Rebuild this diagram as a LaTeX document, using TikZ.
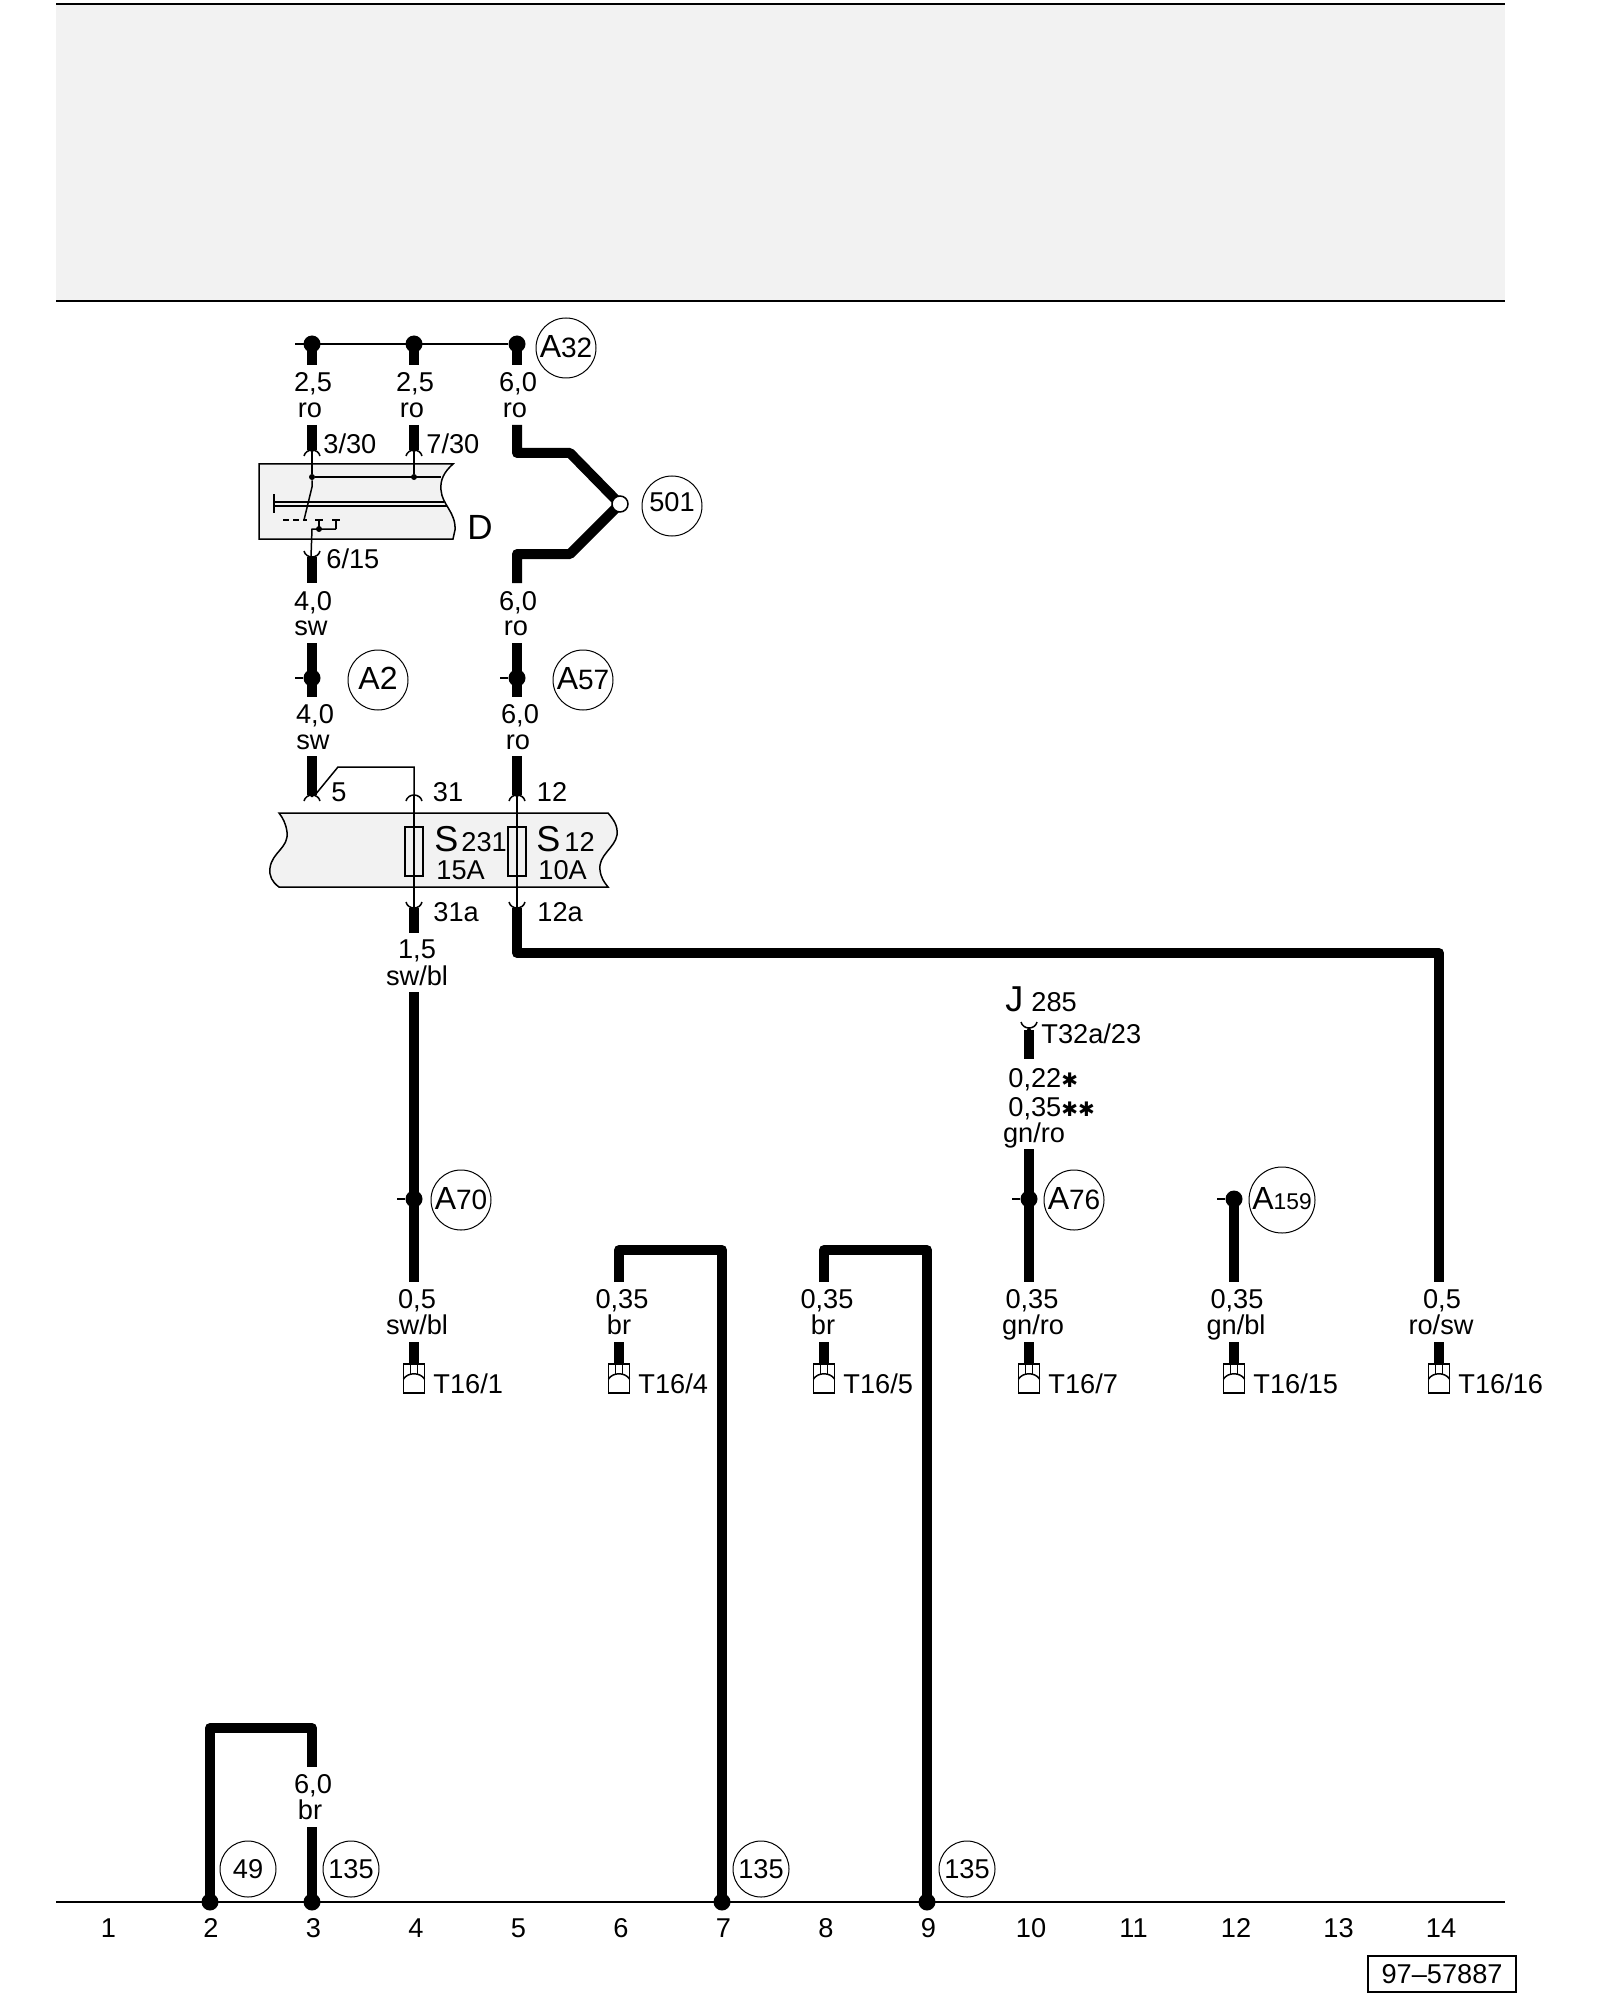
\documentclass[tikz,border=0pt]{standalone}
\usepackage{fontspec}
\setmainfont{Liberation Sans}
\newfontfamily\symfont{DejaVu Sans}
\definecolor{panelgray}{HTML}{F2F2F2}
\newcommand{\lbl}{\fontsize{13.6}{15}\selectfont}
\newcommand{\lblbig}{\fontsize{16}{18}\selectfont}
\newcommand{\lblmid}{\fontsize{14}{16}\selectfont}
\newcommand{\lbltiny}{\fontsize{11.4}{13}\selectfont}
\newcommand{\lblhuge}{\fontsize{18}{20}\selectfont}
\newcommand{\fat}{{\symfont\fontsize{10}{11}\selectfont ✱}}
\tikzset{
	wire/.style={line width=5pt, line join=round},
	hair/.style={line width=.75pt},
	rail/.style={line width=1pt},
	lab/.style={anchor=base, inner sep=0pt, font=\lbl},
	labl/.style={anchor=base west, inner sep=0pt, font=\lbl},
	tag/.style={circle, draw, line width=.5pt, fill=white, inner sep=0pt, minimum size=30pt, font=\lbl, text height=9.5pt, text depth=0pt},
	splice/.style={circle, fill=black, inner sep=0pt, minimum size=8.5pt},
	fuse/.style={draw, hair, fill=panelgray, inner sep=0pt, minimum width=9pt, minimum height=24.5pt},
	socketdn/.pic={\draw[hair] (-8,6) .. controls (-6,-2) and (6,-2) .. (8,6);},
	socketup/.pic={\draw[hair] (-8,-6) .. controls (-6,2) and (6,2) .. (8,-6);},
	tipdn/.pic={\fill (-5,-5) -- (5,-5) -- (1,2) -- (-1,2) -- cycle;},
	tipup/.pic={\fill (-5,5) -- (5,5) -- (1,-2) -- (-1,-2) -- cycle;},
	tplug/.pic={
		\draw[hair, fill=white] (-10.5,0) rectangle (10.5,29);
		\draw[hair] (-10.5,15) .. controls (-6,8) and (6,8) .. (10.5,15);
		\draw[hair] (-3.5,0) -- (-3.5,10) (3.5,0) -- (3.5,10);
	}
}
\begin{document}
\begin{tikzpicture}[x=.5pt, y=-.5pt]
	\useasboundingbox (0,0) rectangle (1600,2000);

	% top panel
	\fill[panelgray] (56,4) rectangle (1505,301);
	\draw[rail] (56,4) -- (1505,4);
	\draw[rail] (56,301) -- (1505,301);

	% earth rail and column numbers
	\coordinate (railL) at (56,1902);
	\coordinate (railR) at (1505,1902);
	\draw[rail] (railL) -- (railR);
	\foreach \i in {1,...,14}{
		\node[lab] (col\i) at ({6+102.5*\i},1937) {\i};
	}
	\draw[rail] (1368,1956) rectangle (1516,1992);
	\node[font=\lbl, inner sep=0pt] (docno) at (1442,1974) {97–57887};

	% bus at the top
	\node[splice] (busA) at (312,344) {};
	\node[splice] (busB) at (414,344) {};
	\node[splice] (busC) at (517,344) {};
	\coordinate (busL) at (295,344);
	\draw[rail] (busL) -- (busC);
	\node[tag] (tagA32) at (566,348) {\lblbig A\lblmid 32};
	\foreach \n/\x/\sz in {A/312/{2,5},B/414/{2,5},C/517/{6,0}}{
		\coordinate (bus\n e) at (\x,365);
		\draw[wire] (bus\n.center) -- (bus\n e);
		\node[lab] (sz\n) at (\x+1,392) {\sz};
		\node[lab] (clr\n) at (\x-2,418) {ro};
	}

	% ignition switch D
	\coordinate (dA) at (312,425);
	\coordinate (dB) at (312,450);
	\coordinate (eA) at (414,425);
	\coordinate (eB) at (414,450);
	\draw[wire] (dA) -- (dB);
	\draw[wire] (eA) -- (eB);
	\draw[hair, fill=panelgray] (259,464) -- (453,464) .. controls (444,472) and (440,480) .. (441,490)
		.. controls (442,505) and (456,512) .. (455,530) -- (453,539) -- (259,539) -- cycle;
	\pic at (312,450) {socketdn};
	\pic at (312,450) {tipdn};
	\pic at (414,450) {socketdn};
	\pic at (414,450) {tipdn};
	\node[splice, minimum size=3pt] (dsw) at (312,477) {};
	\node[splice, minimum size=3pt] (dsx) at (414,477) {};
	\coordinate (dR) at (441,477);
	\draw[hair] (dB) -- (dsw);
	\draw[hair] (eB) -- (dsx);
	\draw[hair] (dsw) -- (dR);
	\draw[hair] (274,494) -- (274,513);
	\draw[hair] (274,502) -- (444,502);
	\draw[hair] (274,506) -- (447,506);
	\draw[hair] (dsw) -- (312,487) -- (304,520);
	\draw[hair, densely dashed] (283,520) -- (307,520);
	\draw[hair] (315,520) -- (323,520) (319,520) -- (319,529);
	\draw[hair] (332,520) -- (340,520) (336,520) -- (336,529);
	\node[splice, minimum size=3pt] (dsy) at (319,529) {};
	\coordinate (dC) at (311,557);
	\draw[hair] (336,529) -- (312,529) -- (dC);
	\pic at (312,557) {socketup};
	\pic at (312,558) {tipup};
	\node[labl] (pinA) at (323,453) {3/30};
	\node[labl] (pinB) at (426,453) {7/30};
	\node[labl] (pinC) at (326,568) {6/15};
	\node[lab, font=\fontsize{17.5}{20}\selectfont] (swD) at (480,539) {D};

	% splice 501
	\coordinate (fkA) at (517,425);
	\coordinate (fkB) at (517,583);
	\node[circle, inner sep=0pt, minimum size=8pt] (spl501) at (620,504) {};
	\draw[wire] (fkA) -- (517,453) -- (570,453) -- (spl501.center) -- (570,554) -- (517,554) -- (fkB);
	\node[circle, draw, hair, fill=white, inner sep=0pt, minimum size=8pt] (spl501o) at (spl501) {};
	\node[tag, text depth=4pt] (tag501) at (672,506) {501};

	% from D to the fuses
	\coordinate (dD) at (312,557);
	\coordinate (dE) at (312,583);
	\draw[wire] (dD) -- (dE);
	\foreach \n/\x/\sz/\col in {a/312/{4,0}/sw,b/517/{6,0}/ro}{
		\node[lab] (up\n) at (\x+1,610) {\sz};
		\node[lab] (uq\n) at (\x-1,635) {\col};
		\node[splice] (sp\n) at (\x,678) {};
		\coordinate (sp\n u) at (\x,643);
		\coordinate (sp\n d) at (\x,697);
		\coordinate (sp\n s) at (\x-17,678);
		\draw[wire] (sp\n u) -- (sp\n d);
		\draw[hair] (sp\n s) -- (sp\n);
		\node[lab] (lo\n) at (\x+3,723) {\sz};
		\node[lab] (lp\n) at (\x+1,749) {\col};
		\coordinate (fa\n) at (\x,756);
		\coordinate (fb\n) at (\x,795);
		\draw[wire] (fa\n) -- (fb\n);
		\pic at (\x,795) {socketdn};
		\pic at (\x,795) {tipdn};
	}
	\node[tag] (tagA2) at (378,680) {\lblbig A2};
	\node[tag] (tagA57) at (583,680) {\lblbig A\lblmid 57};

	% fuse carrier
	\draw[hair, fill=panelgray] (279,813) -- (608,813) .. controls (614,820) and (618,826) .. (617,835)
		.. controls (615,848) and (598,855) .. (600,870) .. controls (601,878) and (604,882) .. (608,887)
		-- (279,887) .. controls (272,882) and (269,876) .. (270,868)
		.. controls (272,852) and (289,848) .. (287,832) .. controls (286,824) and (283,818) .. (279,813) -- cycle;
	\coordinate (jmpA) at (315,795);
	\coordinate (jmpB) at (338,767);
	\coordinate (jmpC) at (414,767);
	\coordinate (jmpD) at (414,795);
	\draw[hair] (jmpA) -- (jmpB) -- (jmpC) -- (jmpD);
	\pic at (414,795) {socketdn};
	\node[fuse] (fuseA) at (414,851.5) {};
	\node[fuse] (fuseB) at (517,851.5) {};
	\coordinate (fuAe) at (414,908);
	\coordinate (fuBe) at (517,908);
	\draw[hair] (jmpD) -- (fuAe);
	\coordinate (fuBt) at (517,795);
	\draw[hair] (fuBt) -- (fuBe);
	\pic at (414,908) {socketup};
	\pic at (414,909) {tipup};
	\pic at (517,908) {socketup};
	\pic at (517,909) {tipup};
	\node[lab] (pin5) at (339,801) {5};
	\node[lab] (pin31) at (448,801) {31};
	\node[lab] (pin12) at (552,801) {12};
	\node[labl, font=\lblhuge] (nmA) at (434,851) {S};
	\node[labl] (nmB) at (461,851) {231};
	\node[labl] (ampA) at (436,879) {15A};
	\node[labl, font=\lblhuge] (nmC) at (536,851) {S};
	\node[labl] (nmD) at (564,851) {12};
	\node[labl] (ampB) at (538,879) {10A};
	\node[labl] (pin31a) at (433,921) {31a};
	\node[labl] (pin12a) at (537,921) {12a};

	% wires below the fuses
	\coordinate (outA) at (414,933);
	\draw[wire] (fuAe) -- (outA);
	\node[lab] (outAs) at (417,958) {1,5};
	\node[lab] (outAc) at (417,985) {sw/bl};
	\coordinate (outB) at (414,992);
	\coordinate (outC) at (414,1282);
	\draw[wire] (outB) -- (outC);
	\node[splice] (spA70) at (414,1199) {};
	\coordinate (spA70s) at (397,1199);
	\draw[hair] (spA70s) -- (spA70);
	\node[tag] (tagA70) at (461,1200) {\lblbig A\lblmid 70};
	\coordinate (runB) at (1439,1282);
	\draw[wire] (fuBe) -- (517,953) -- (1439,953) -- (runB);

	% J 285
	\node[labl, font=\lblhuge] (ctlJ) at (1005,1011) {J};
	\node[labl] (ctlN) at (1031,1011) {285};
	\pic at (1029,1028) {socketup};
	\pic at (1029,1030) {tipup};
	\coordinate (ctlA) at (1029,1030);
	\coordinate (ctlB) at (1029,1059);
	\draw[wire] (ctlA) -- (ctlB);
	\node[labl] (ctlP) at (1041,1043) {T32a/23};
	\node[labl] (ctlS) at (1008,1087) {0,22\fat};
	\node[labl] (ctlT) at (1008,1116) {0,35\fat\fat};
	\node[lab] (ctlC) at (1034,1142) {gn/ro};
	\coordinate (ctlD) at (1029,1149);
	\coordinate (ctlE) at (1029,1282);
	\draw[wire] (ctlD) -- (ctlE);
	\node[splice] (spA76) at (1029,1199) {};
	\coordinate (spA76s) at (1012,1199);
	\draw[hair] (spA76s) -- (spA76);
	\node[tag] (tagA76) at (1074,1200) {\lblbig A\lblmid 76};

	% A159
	\node[splice] (spA159) at (1234,1199) {};
	\coordinate (spA159s) at (1217,1199);
	\coordinate (spA159e) at (1234,1282);
	\draw[hair] (spA159s) -- (spA159);
	\draw[wire] (spA159.center) -- (spA159e);
	\node[tag, minimum size=33pt] (tagA159) at (1282,1200) {\lblbig A\lbltiny 159};

	% loops down to earth
	\coordinate (lpA) at (619,1282);
	\coordinate (lpB) at (824,1282);
	\node[splice] (gnd7) at (722,1902) {};
	\node[splice] (gnd9) at (927,1902) {};
	\draw[wire] (lpA) -- (619,1250) -- (722,1250) -- (gnd7.center);
	\draw[wire] (lpB) -- (824,1250) -- (927,1250) -- (gnd9.center);
	\node[splice] (gnd2) at (210,1902) {};
	\node[splice] (gnd3) at (312,1902) {};
	\coordinate (lpC) at (312,1767);
	\coordinate (lpD) at (312,1827);
	\draw[wire] (gnd2.center) -- (210,1728) -- (312,1728) -- (lpC);
	\draw[wire] (lpD) -- (gnd3.center);
	\node[lab] (lpS) at (313,1793) {6,0};
	\node[lab] (lpT) at (310,1819) {br};
	\node[tag, minimum size=28pt] (tag49) at (248,1869) {49};
	\foreach \n/\x in {a/351,b/761,c/967}{
		\node[tag, minimum size=28pt] (tag135\n) at (\x,1869) {135};
	}

	% diagnosis plug
	\foreach \x/\pin/\sx/\cx/\sz/\col in {414/1/417/417/{0,5}/{sw/bl},619/4/622/619/{0,35}/br,824/5/827/823/{0,35}/br,1029/7/1032/1033/{0,35}/{gn/ro},1234/15/1237/1236/{0,35}/{gn/bl},1439/16/1442/1441/{0,5}/{ro/sw}}{
		\node[lab] (sz\pin) at (\sx,1308) {\sz};
		\node[lab] (cl\pin) at (\cx,1334) {\col};
		\coordinate (plg\pin) at (\x,1342);
		\coordinate (plh\pin) at (\x,1365);
		\draw[wire] (plg\pin) -- (plh\pin);
		\pic at (\x,1364) {tplug};
		\node[labl] (pn\pin) at (\x+19,1393) {T16/\pin};
	}
\end{tikzpicture}
\end{document}
